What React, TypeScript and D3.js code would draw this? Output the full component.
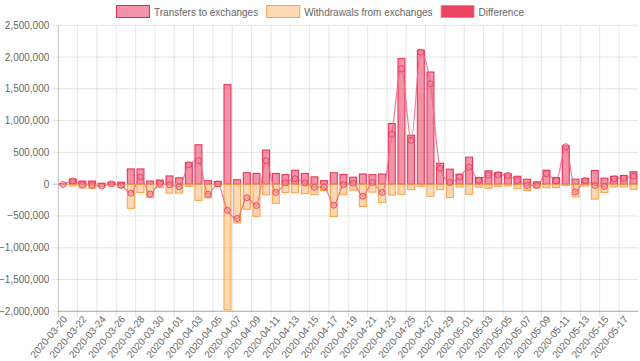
import React from 'react';
import * as d3 from 'd3';

const dates = [
  '2020-03-20', '2020-03-21', '2020-03-22', '2020-03-23', '2020-03-24', '2020-03-25',
  '2020-03-26', '2020-03-27', '2020-03-28', '2020-03-29', '2020-03-30', '2020-03-31',
  '2020-04-01', '2020-04-02', '2020-04-03', '2020-04-04', '2020-04-05', '2020-04-06',
  '2020-04-07', '2020-04-08', '2020-04-09', '2020-04-10', '2020-04-11', '2020-04-12',
  '2020-04-13', '2020-04-14', '2020-04-15', '2020-04-16', '2020-04-17', '2020-04-18',
  '2020-04-19', '2020-04-20', '2020-04-21', '2020-04-22', '2020-04-23', '2020-04-24',
  '2020-04-25', '2020-04-26', '2020-04-27', '2020-04-28', '2020-04-29', '2020-04-30',
  '2020-05-01', '2020-05-02', '2020-05-03', '2020-05-04', '2020-05-05', '2020-05-06',
  '2020-05-07', '2020-05-08', '2020-05-09', '2020-05-10', '2020-05-11', '2020-05-12',
  '2020-05-13', '2020-05-14', '2020-05-15', '2020-05-16', '2020-05-17', '2020-05-18',
];

const transfers = [
  8000, 80000, 50000, 50000, 15000, 32000, 32000, 240000, 240000, 50000,
  65000, 130000, 100000, 340000, 620000, 55000, 42000, 1566000, 70000, 180000,
  170000, 538000, 170000, 150000, 220000, 170000, 115000, 55000, 180000, 155000,
  110000, 160000, 150000, 160000, 955000, 1975000, 770000, 2110000, 1765000, 330000,
  237000, 158000, 425000, 105000, 210000, 185000, 163000, 125000, 78000, 37000,
  220000, 105000, 605000, 80000, 88000, 215000, 95000, 125000, 137000, 195000,
];

const withdrawals = [
  -12000, -28000, -60000, -65000, -45000, -26000, -53000, -380000, -130000, -210000,
  -55000, -140000, -140000, -35000, -255000, -215000, -35000, -1978000, -610000, -395000,
  -506000, -169000, -300000, -130000, -135000, -150000, -165000, -100000, -510000, -165000,
  -95000, -350000, -125000, -290000, -170000, -160000, -85000, -35000, -190000, -85000,
  -210000, -45000, -160000, -47000, -65000, -35000, -28000, -70000, -100000, -60000,
  -55000, -55000, -20000, -200000, -30000, -235000, -130000, -45000, -45000, -80000,
];

const difference = [
  -4000, 52000, -10000, -15000, -30000, 6000, -21000, -142000, 110000, -155000,
  10000, -10000, -40000, 305000, 369000, -160000, 7000, -412000, -540000, -215000,
  -336000, 369000, -130000, 20000, 85000, 20000, -50000, -45000, -330000, -10000,
  15000, -190000, 25000, -130000, 785000, 1814000, 690000, 2077000, 1580000, 250000,
  27000, 113000, 265000, 62000, 145000, 150000, 137000, 58000, -22000, -20000,
  165000, 55000, 590000, -120000, 58000, -20000, -35000, 85000, 95000, 125000,
];

const yTicks = [-2000000, -1500000, -1000000, -500000, 0, 500000, 1000000, 1500000, 2000000, 2500000];

const legendItems = [
  { label: 'Transfers to exchanges', fill: 'rgba(232, 40, 80, 0.5)', stroke: 'rgb(232, 40, 80)' },
  { label: 'Withdrawals from exchanges', fill: 'rgba(255, 159, 64, 0.4)', stroke: 'rgb(255, 159, 64)' },
  { label: 'Difference', fill: 'rgb(232, 68, 96)', stroke: 'rgba(240, 120, 145, 0.8)' },
];

const W = 640;
const H = 361;
const left = 58.3;
const right = 638.3;
const top = 25.3;
const bottom = 311.3;
const font = '"Liberation Sans", Arial, Helvetica, sans-serif';
const legendFont = 10;

const measure = (text: string) => {
  const ctx = document.createElement('canvas').getContext('2d');
  if (!ctx) return text.length * 5.5;
  ctx.font = `${legendFont}px ${font}`;
  return ctx.measureText(text).width;
};

export default function App() {
  const x = d3.scaleBand<string>().domain(dates).range([left, right]).paddingInner(0).paddingOuter(0);
  const y = d3.scaleLinear().domain([-2000000, 2500000]).range([bottom, top]);
  const bw = x.bandwidth() * 0.72;
  const cx = (d: string) => (x(d) as number) + x.bandwidth() / 2;
  const fmt = d3.format(',');

  const line = d3
    .line<number>()
    .x((_, i) => cx(dates[i]))
    .y(d => y(d))
    .curve(d3.curveMonotoneX);

  // legend layout, centred
  const boxW = 33;
  const widths = legendItems.map(l => boxW + 5 + measure(l.label));
  const gap = 8;
  const total = d3.sum(widths) + gap * (widths.length - 1);
  let lx = (W - total) / 2;
  const legendPos = widths.map(w => {
    const p = lx;
    lx += w + gap;
    return p;
  });

  return (
    <svg width={W} height={H} style={{ position: 'absolute', left: 0, top: 0 }} fontFamily={font}>
      <rect width={W} height={H} fill="#fff" />
      {legendItems.map((l, i) => (
        <g key={l.label} transform={`translate(${legendPos[i]}, 5)`}>
          <rect x={0.5} y={0.5} width={boxW} height={12} fill={l.fill} stroke={l.stroke} strokeWidth={1} />
          <text x={boxW + 5} y={7} dominantBaseline="central" fontSize={legendFont} fill="#666">
            {l.label}
          </text>
        </g>
      ))}
      {yTicks.map(t => (
        <g key={t}>
          <line
            x1={left - 6}
            x2={right}
            y1={y(t)}
            y2={y(t)}
            stroke={t === 0 ? 'rgba(0,0,0,0.25)' : 'rgba(0,0,0,0.1)'}
            strokeWidth={1}
          />
          <text x={left - 9} y={y(t)} textAnchor="end" dominantBaseline="central" fontSize={10} fill="#666">
            {fmt(t)}
          </text>
        </g>
      ))}
      {dates.map((d, i) =>
        i % 2 === 0 ? (
          <line
            key={d}
            x1={x(d)}
            x2={x(d)}
            y1={top}
            y2={bottom + 6}
            stroke={i === 0 ? 'rgba(0,0,0,0.25)' : 'rgba(0,0,0,0.1)'}
          />
        ) : null,
      )}
      <line x1={left} x2={right} y1={bottom} y2={bottom} stroke="rgba(0,0,0,0.25)" />
      {dates.map((d, i) =>
        i % 2 === 0 ? (
          <text
            key={d}
            transform={`translate(${cx(d) + 2}, ${bottom + 6}) rotate(-50)`}
            textAnchor="end"
            dominantBaseline="central"
            fontSize={10}
            fill="#666"
          >
            {d}
          </text>
        ) : null,
      )}
      {dates.map((d, i) => (
        <g key={d}>
          <rect
            x={cx(d) - bw / 2}
            width={bw}
            y={y(transfers[i])}
            height={y(0) - y(transfers[i])}
            fill="rgba(232, 40, 80, 0.5)"
            stroke="rgb(232, 40, 80)"
            strokeWidth={1}
          />
          <rect
            x={cx(d) - bw / 2}
            width={bw}
            y={y(0)}
            height={y(withdrawals[i]) - y(0)}
            fill="rgba(255, 159, 64, 0.4)"
            stroke="rgb(255, 159, 64)"
            strokeWidth={1}
          />
        </g>
      ))}
      <path d={line(difference) || ''} fill="none" stroke="rgba(240, 100, 130, 0.85)" strokeWidth={1.2} />
      {difference.map((v, i) => (
        <circle
          key={dates[i]}
          cx={cx(dates[i])}
          cy={y(v)}
          r={3}
          fill="rgba(245, 140, 160, 0.45)"
          stroke="rgba(232, 50, 85, 0.8)"
          strokeWidth={1}
        />
      ))}
    </svg>
  );
}
